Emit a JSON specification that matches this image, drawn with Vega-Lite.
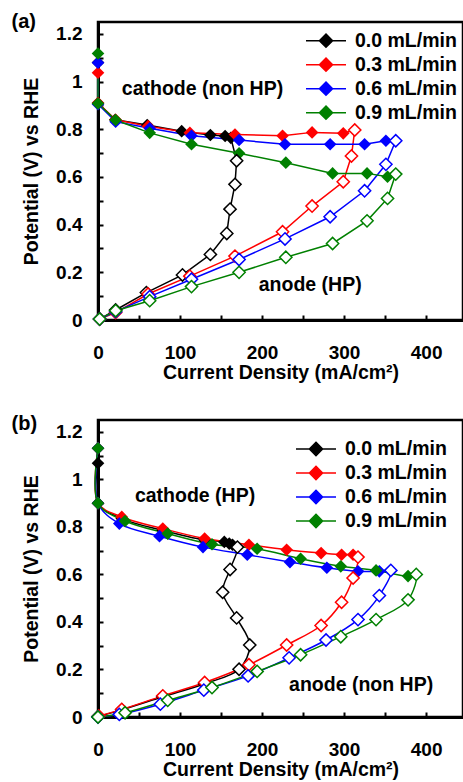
{
  "$schema": "https://vega.github.io/schema/vega-lite/v6.json",
  "padding": {"left": 10, "top": 10, "right": 0, "bottom": 0},
  "background": "white",
  "config": {
    "font": "Liberation Sans",
    "view": {"stroke": "black", "strokeWidth": 2.5},
    "axis": {
      "grid": false,
      "domainColor": "black",
      "domainWidth": 3,
      "tickColor": "black",
      "tickWidth": 2,
      "tickSize": -5,
      "labelColor": "black",
      "labelFontSize": 19,
      "labelFontWeight": "bold",
      "labelOverlap": false,
      "labelFlush": false,
      "titleColor": "black",
      "titleFontSize": 19.5,
      "titleFontWeight": "bold"
    },
    "title": {"color": "black", "fontSize": 20, "fontWeight": "bold"}
  },
  "resolve": {"legend": {"color": "independent"}},
  "spacing": 29,
  "datasets": {
    "a": [
      {"r":"0.0 mL/min","i":0,"t":"c","x":0,"y":1.08},
      {"r":"0.0 mL/min","i":1,"t":"c","x":0,"y":0.91},
      {"r":"0.0 mL/min","i":2,"t":"c","x":21,"y":0.84},
      {"r":"0.0 mL/min","i":3,"t":"c","x":60,"y":0.818},
      {"r":"0.0 mL/min","i":4,"t":"c","x":102,"y":0.792},
      {"r":"0.0 mL/min","i":5,"t":"c","x":137,"y":0.776},
      {"r":"0.0 mL/min","i":6,"t":"c","x":155,"y":0.772},
      {"r":"0.0 mL/min","i":7,"t":"c","x":162,"y":0.764},
      {"r":"0.0 mL/min","i":8,"t":"a","x":169,"y":0.668},
      {"r":"0.0 mL/min","i":9,"t":"a","x":167,"y":0.569},
      {"r":"0.0 mL/min","i":10,"t":"a","x":161,"y":0.465},
      {"r":"0.0 mL/min","i":11,"t":"a","x":157,"y":0.363},
      {"r":"0.0 mL/min","i":12,"t":"a","x":137,"y":0.275},
      {"r":"0.0 mL/min","i":13,"t":"a","x":103,"y":0.189},
      {"r":"0.0 mL/min","i":14,"t":"a","x":59,"y":0.115},
      {"r":"0.0 mL/min","i":15,"t":"a","x":21.5,"y":0.042},
      {"r":"0.0 mL/min","i":16,"t":"a","x":2,"y":0.004},
      {"r":"0.3 mL/min","i":0,"t":"c","x":0,"y":1.037},
      {"r":"0.3 mL/min","i":1,"t":"c","x":0,"y":0.91},
      {"r":"0.3 mL/min","i":2,"t":"c","x":21.5,"y":0.84},
      {"r":"0.3 mL/min","i":3,"t":"c","x":61,"y":0.813},
      {"r":"0.3 mL/min","i":4,"t":"c","x":112,"y":0.785},
      {"r":"0.3 mL/min","i":5,"t":"c","x":167,"y":0.778},
      {"r":"0.3 mL/min","i":6,"t":"c","x":225,"y":0.773},
      {"r":"0.3 mL/min","i":7,"t":"c","x":261,"y":0.787},
      {"r":"0.3 mL/min","i":8,"t":"c","x":299,"y":0.783},
      {"r":"0.3 mL/min","i":9,"t":"a","x":313,"y":0.797},
      {"r":"0.3 mL/min","i":10,"t":"a","x":309,"y":0.688},
      {"r":"0.3 mL/min","i":11,"t":"a","x":299,"y":0.58},
      {"r":"0.3 mL/min","i":12,"t":"a","x":261,"y":0.478},
      {"r":"0.3 mL/min","i":13,"t":"a","x":225,"y":0.37},
      {"r":"0.3 mL/min","i":14,"t":"a","x":167,"y":0.268},
      {"r":"0.3 mL/min","i":15,"t":"a","x":112,"y":0.184},
      {"r":"0.3 mL/min","i":16,"t":"a","x":61,"y":0.109},
      {"r":"0.3 mL/min","i":17,"t":"a","x":21.5,"y":0.031},
      {"r":"0.3 mL/min","i":18,"t":"a","x":2,"y":0.004},
      {"r":"0.6 mL/min","i":0,"t":"c","x":0,"y":1.079},
      {"r":"0.6 mL/min","i":1,"t":"c","x":0,"y":0.905},
      {"r":"0.6 mL/min","i":2,"t":"c","x":21.5,"y":0.832},
      {"r":"0.6 mL/min","i":3,"t":"c","x":63,"y":0.804},
      {"r":"0.6 mL/min","i":4,"t":"c","x":114,"y":0.773},
      {"r":"0.6 mL/min","i":5,"t":"c","x":172,"y":0.755},
      {"r":"0.6 mL/min","i":6,"t":"c","x":228,"y":0.737},
      {"r":"0.6 mL/min","i":7,"t":"c","x":283,"y":0.737},
      {"r":"0.6 mL/min","i":8,"t":"c","x":325,"y":0.737},
      {"r":"0.6 mL/min","i":9,"t":"c","x":351,"y":0.752},
      {"r":"0.6 mL/min","i":10,"t":"a","x":363,"y":0.752},
      {"r":"0.6 mL/min","i":11,"t":"a","x":351,"y":0.653},
      {"r":"0.6 mL/min","i":12,"t":"a","x":325,"y":0.542},
      {"r":"0.6 mL/min","i":13,"t":"a","x":283,"y":0.433},
      {"r":"0.6 mL/min","i":14,"t":"a","x":228,"y":0.34},
      {"r":"0.6 mL/min","i":15,"t":"a","x":172,"y":0.254},
      {"r":"0.6 mL/min","i":16,"t":"a","x":114,"y":0.171},
      {"r":"0.6 mL/min","i":17,"t":"a","x":63,"y":0.098},
      {"r":"0.6 mL/min","i":18,"t":"a","x":21.5,"y":0.035},
      {"r":"0.6 mL/min","i":19,"t":"a","x":2,"y":0.004},
      {"r":"0.9 mL/min","i":0,"t":"c","x":0,"y":1.118},
      {"r":"0.9 mL/min","i":1,"t":"c","x":0,"y":0.908},
      {"r":"0.9 mL/min","i":2,"t":"c","x":21.5,"y":0.839},
      {"r":"0.9 mL/min","i":3,"t":"c","x":63,"y":0.785},
      {"r":"0.9 mL/min","i":4,"t":"c","x":114,"y":0.737},
      {"r":"0.9 mL/min","i":5,"t":"c","x":172,"y":0.699},
      {"r":"0.9 mL/min","i":6,"t":"c","x":229,"y":0.66},
      {"r":"0.9 mL/min","i":7,"t":"c","x":286,"y":0.615},
      {"r":"0.9 mL/min","i":8,"t":"c","x":328,"y":0.615},
      {"r":"0.9 mL/min","i":9,"t":"c","x":353,"y":0.601},
      {"r":"0.9 mL/min","i":10,"t":"a","x":363,"y":0.612},
      {"r":"0.9 mL/min","i":11,"t":"a","x":353,"y":0.51},
      {"r":"0.9 mL/min","i":12,"t":"a","x":328,"y":0.416},
      {"r":"0.9 mL/min","i":13,"t":"a","x":286,"y":0.321},
      {"r":"0.9 mL/min","i":14,"t":"a","x":229,"y":0.263},
      {"r":"0.9 mL/min","i":15,"t":"a","x":172,"y":0.2},
      {"r":"0.9 mL/min","i":16,"t":"a","x":114,"y":0.14},
      {"r":"0.9 mL/min","i":17,"t":"a","x":63,"y":0.081},
      {"r":"0.9 mL/min","i":18,"t":"a","x":21.5,"y":0.039},
      {"r":"0.9 mL/min","i":19,"t":"a","x":2,"y":0.004}
    ],
    "b": [
      {"r":"0.0 mL/min","i":0,"t":"c","x":0,"y":1.068},
      {"r":"0.0 mL/min","i":1,"t":"c","x":0,"y":0.9},
      {"r":"0.0 mL/min","i":2,"t":"c","x":29,"y":0.835},
      {"r":"0.0 mL/min","i":3,"t":"c","x":79,"y":0.785},
      {"r":"0.0 mL/min","i":4,"t":"c","x":130,"y":0.745},
      {"r":"0.0 mL/min","i":5,"t":"c","x":154,"y":0.737},
      {"r":"0.0 mL/min","i":6,"t":"c","x":160,"y":0.73},
      {"r":"0.0 mL/min","i":7,"t":"c","x":164,"y":0.725},
      {"r":"0.0 mL/min","i":8,"t":"a","x":170,"y":0.715},
      {"r":"0.0 mL/min","i":9,"t":"a","x":161,"y":0.621},
      {"r":"0.0 mL/min","i":10,"t":"a","x":152,"y":0.525},
      {"r":"0.0 mL/min","i":11,"t":"a","x":169,"y":0.417},
      {"r":"0.0 mL/min","i":12,"t":"a","x":185,"y":0.303},
      {"r":"0.0 mL/min","i":13,"t":"a","x":172,"y":0.201},
      {"r":"0.0 mL/min","i":14,"t":"a","x":130,"y":0.14},
      {"r":"0.0 mL/min","i":15,"t":"a","x":79,"y":0.085},
      {"r":"0.0 mL/min","i":16,"t":"a","x":29,"y":0.03},
      {"r":"0.0 mL/min","i":17,"t":"a","x":0,"y":0.002},
      {"r":"0.3 mL/min","i":0,"t":"c","x":0,"y":1.131},
      {"r":"0.3 mL/min","i":1,"t":"c","x":0,"y":0.9},
      {"r":"0.3 mL/min","i":2,"t":"c","x":29,"y":0.842},
      {"r":"0.3 mL/min","i":3,"t":"c","x":79,"y":0.793},
      {"r":"0.3 mL/min","i":4,"t":"c","x":130,"y":0.751},
      {"r":"0.3 mL/min","i":5,"t":"c","x":184,"y":0.725},
      {"r":"0.3 mL/min","i":6,"t":"c","x":230,"y":0.704},
      {"r":"0.3 mL/min","i":7,"t":"c","x":272,"y":0.69},
      {"r":"0.3 mL/min","i":8,"t":"c","x":297,"y":0.683},
      {"r":"0.3 mL/min","i":9,"t":"c","x":311,"y":0.683},
      {"r":"0.3 mL/min","i":10,"t":"a","x":317,"y":0.673},
      {"r":"0.3 mL/min","i":11,"t":"a","x":311,"y":0.585},
      {"r":"0.3 mL/min","i":12,"t":"a","x":297,"y":0.483},
      {"r":"0.3 mL/min","i":13,"t":"a","x":272,"y":0.385},
      {"r":"0.3 mL/min","i":14,"t":"a","x":230,"y":0.303},
      {"r":"0.3 mL/min","i":15,"t":"a","x":184,"y":0.22},
      {"r":"0.3 mL/min","i":16,"t":"a","x":130,"y":0.145},
      {"r":"0.3 mL/min","i":17,"t":"a","x":79,"y":0.089},
      {"r":"0.3 mL/min","i":18,"t":"a","x":29,"y":0.032},
      {"r":"0.3 mL/min","i":19,"t":"a","x":1,"y":0.004},
      {"r":"0.6 mL/min","i":0,"t":"c","x":0,"y":1.131},
      {"r":"0.6 mL/min","i":1,"t":"c","x":0,"y":0.9},
      {"r":"0.6 mL/min","i":2,"t":"c","x":26,"y":0.814},
      {"r":"0.6 mL/min","i":3,"t":"c","x":75,"y":0.761},
      {"r":"0.6 mL/min","i":4,"t":"c","x":128,"y":0.715},
      {"r":"0.6 mL/min","i":5,"t":"c","x":182,"y":0.683},
      {"r":"0.6 mL/min","i":6,"t":"c","x":234,"y":0.652},
      {"r":"0.6 mL/min","i":7,"t":"c","x":279,"y":0.628},
      {"r":"0.6 mL/min","i":8,"t":"c","x":317,"y":0.613},
      {"r":"0.6 mL/min","i":9,"t":"c","x":343,"y":0.613},
      {"r":"0.6 mL/min","i":10,"t":"a","x":357,"y":0.617},
      {"r":"0.6 mL/min","i":11,"t":"a","x":343,"y":0.511},
      {"r":"0.6 mL/min","i":12,"t":"a","x":317,"y":0.41},
      {"r":"0.6 mL/min","i":13,"t":"a","x":278,"y":0.324},
      {"r":"0.6 mL/min","i":14,"t":"a","x":233,"y":0.249},
      {"r":"0.6 mL/min","i":15,"t":"a","x":183,"y":0.173},
      {"r":"0.6 mL/min","i":16,"t":"a","x":129,"y":0.113},
      {"r":"0.6 mL/min","i":17,"t":"a","x":76,"y":0.054},
      {"r":"0.6 mL/min","i":18,"t":"a","x":26,"y":0.011},
      {"r":"0.6 mL/min","i":19,"t":"a","x":0,"y":0},
      {"r":"0.9 mL/min","i":0,"t":"c","x":0,"y":1.131},
      {"r":"0.9 mL/min","i":1,"t":"c","x":0,"y":0.9},
      {"r":"0.9 mL/min","i":2,"t":"c","x":33,"y":0.825},
      {"r":"0.9 mL/min","i":3,"t":"c","x":85,"y":0.772},
      {"r":"0.9 mL/min","i":4,"t":"c","x":139,"y":0.727},
      {"r":"0.9 mL/min","i":5,"t":"c","x":194,"y":0.708},
      {"r":"0.9 mL/min","i":6,"t":"c","x":247,"y":0.666},
      {"r":"0.9 mL/min","i":7,"t":"c","x":296,"y":0.634},
      {"r":"0.9 mL/min","i":8,"t":"c","x":339,"y":0.617},
      {"r":"0.9 mL/min","i":9,"t":"c","x":378,"y":0.593},
      {"r":"0.9 mL/min","i":10,"t":"a","x":388,"y":0.6},
      {"r":"0.9 mL/min","i":11,"t":"a","x":378,"y":0.493},
      {"r":"0.9 mL/min","i":12,"t":"a","x":339,"y":0.41},
      {"r":"0.9 mL/min","i":13,"t":"a","x":296,"y":0.338},
      {"r":"0.9 mL/min","i":14,"t":"a","x":247,"y":0.262},
      {"r":"0.9 mL/min","i":15,"t":"a","x":194,"y":0.192},
      {"r":"0.9 mL/min","i":16,"t":"a","x":139,"y":0.124},
      {"r":"0.9 mL/min","i":17,"t":"a","x":85,"y":0.07},
      {"r":"0.9 mL/min","i":18,"t":"a","x":33,"y":0.018},
      {"r":"0.9 mL/min","i":19,"t":"a","x":0,"y":0}
    ]
  },
  "vconcat": [
    {
      "width": 365,
      "height": 298,
      "title": {"text": "(a)", "anchor": "start", "frame": "bounds", "dx": -10, "dy": 10, "offset": 0},
      "data": {"name": "a"},
      "encoding": {
        "x": {"field": "x", "type": "quantitative", "scale": {"domain": [0, 445], "nice": false},
          "axis": {"title": "Current Density (mA/cm²)", "values": [0,50,100,150,200,250,300,350,400], "labelExpr": "datum.value % 100 == 0 ? datum.label : ''", "labelPadding": 28, "titlePadding": 1}},
        "y": {"field": "y", "type": "quantitative", "scale": {"domain": [0, 1.25], "nice": false},
          "axis": {"title": "Potential (V) vs RHE", "values": [0,0.1,0.2,0.3,0.4,0.5,0.6,0.7,0.8,0.9,1,1.1,1.2], "labelExpr": "round(datum.value*10) % 2 == 0 ? format(datum.value, '~g') : ''", "labelPadding": 21, "titlePadding": 14}},
        "color": {"field": "r", "type": "nominal",
          "scale": {"domain": ["0.0 mL/min","0.3 mL/min","0.6 mL/min","0.9 mL/min"], "range": ["#000000","#ff0000","#0000ff","#008000"]},
          "legend": {"orient": "none", "legendX": 207, "legendY": 7, "title": null, "padding": 0,
            "symbolType": "M-1,0H1M0,-0.33L0.33,0L0,0.33L-0.33,0Z", "symbolSize": 1600, "symbolStrokeWidth": 1.5, "symbolOpacity": 1,
            "clipHeight": 23.3, "rowPadding": 0, "labelFontSize": 19.5, "labelFontWeight": "bold", "labelColor": "black", "labelOffset": 8,
            "encode": {"symbols": {"update": {"stroke": {"scale": "color", "field": "value"}, "fill": {"scale": "color", "field": "value"}}}}}}
      },
      "layer": [
        {"mark": {"type": "line", "strokeWidth": 1.5}, "encoding": {"order": {"field": "i", "type": "quantitative"}}},
        {"transform": [{"filter": "datum.t == 'c'"}], "mark": {"type": "point", "shape": "diamond", "filled": true, "size": 160, "opacity": 1}},
        {"transform": [{"filter": "datum.t == 'a'"}], "mark": {"type": "point", "shape": "diamond", "filled": false, "fill": "white", "size": 150, "strokeWidth": 1.5, "opacity": 1}},
        {"data": {"values": [{"label": "cathode (non HP)", "x": 29, "y": 0.97}, {"label": "anode (HP)", "x": 196, "y": 0.147}]},
          "mark": {"type": "text", "align": "left", "baseline": "middle", "fontSize": 19.5, "fontWeight": "bold"},
          "encoding": {"text": {"field": "label"}, "color": {"value": "black"}}}
      ]
    },
    {
      "width": 365,
      "height": 297,
      "title": {"text": "(b)", "anchor": "start", "frame": "bounds", "dx": -10, "dy": 14, "offset": 0},
      "data": {"name": "b"},
      "encoding": {
        "x": {"field": "x", "type": "quantitative", "scale": {"domain": [0, 445], "nice": false},
          "axis": {"title": "Current Density (mA/cm²)", "values": [0,50,100,150,200,250,300,350,400], "labelExpr": "datum.value % 100 == 0 ? datum.label : ''", "labelPadding": 28, "titlePadding": 1}},
        "y": {"field": "y", "type": "quantitative", "scale": {"domain": [0, 1.25], "nice": false},
          "axis": {"title": "Potential (V) vs RHE", "values": [0,0.1,0.2,0.3,0.4,0.5,0.6,0.7,0.8,0.9,1,1.1,1.2], "labelExpr": "round(datum.value*10) % 2 == 0 ? format(datum.value, '~g') : ''", "labelPadding": 21, "titlePadding": 14}},
        "color": {"field": "r", "type": "nominal",
          "scale": {"domain": ["0.0 mL/min","0.3 mL/min","0.6 mL/min","0.9 mL/min"], "range": ["#000000","#ff0000","#0000ff","#008000"]},
          "legend": {"orient": "none", "legendX": 197, "legendY": 17, "title": null, "padding": 0,
            "symbolType": "M-1,0H1M0,-0.33L0.33,0L0,0.33L-0.33,0Z", "symbolSize": 1600, "symbolStrokeWidth": 1.5, "symbolOpacity": 1,
            "clipHeight": 24, "rowPadding": 0, "labelFontSize": 19.5, "labelFontWeight": "bold", "labelColor": "black", "labelOffset": 8,
            "encode": {"symbols": {"update": {"stroke": {"scale": "color", "field": "value"}, "fill": {"scale": "color", "field": "value"}}}}}}
      },
      "layer": [
        {"mark": {"type": "line", "strokeWidth": 1.5, "interpolate": "catmull-rom"}, "encoding": {"order": {"field": "i", "type": "quantitative"}}},
        {"transform": [{"filter": "datum.t == 'c'"}], "mark": {"type": "point", "shape": "diamond", "filled": true, "size": 160, "opacity": 1}},
        {"transform": [{"filter": "datum.t == 'a'"}], "mark": {"type": "point", "shape": "diamond", "filled": false, "fill": "white", "size": 150, "strokeWidth": 1.5, "opacity": 1}},
        {"data": {"values": [{"label": "cathode (HP)", "x": 45, "y": 0.932}, {"label": "anode (non HP)", "x": 233, "y": 0.136}]},
          "mark": {"type": "text", "align": "left", "baseline": "middle", "fontSize": 19.5, "fontWeight": "bold"},
          "encoding": {"text": {"field": "label"}, "color": {"value": "black"}}}
      ]
    }
  ]
}
